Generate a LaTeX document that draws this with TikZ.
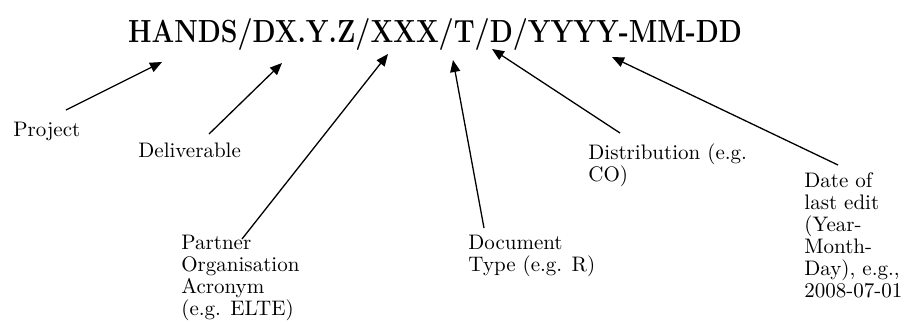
\documentclass[tikz,border=0pt]{standalone}
\usepackage{tikz}
\usetikzlibrary{arrows.meta,positioning,calc}

\begin{document}
\begin{tikzpicture}[x = 0.5pt, y = -0.5pt,
  lbl/.style = {anchor = north west, inner sep = 0pt, align = left, font = \fontsize{10.5}{11}\selectfont},
  arr/.style = {-{Triangle[length = 6pt, width = 5pt]}, line width = 0.65pt}]
\useasboundingbox (0,0) rectangle (904,323);
\node[anchor = base, inner sep = 0pt] (code) at (435,42) {\resizebox{307pt}{\height}{\fontsize{16}{16}\selectfont\bfseries HANDS/DX.Y.Z/XXX/T/D/YYYY-MM-DD}};
% arrow tips below the code
\coordinate (tproj) at (162,62);
\coordinate (tdeliv) at (282,63);
\coordinate (tpartner) at (388,54);
\coordinate (ttype) at (453,60);
\coordinate (tdistr) at (492,49);
\coordinate (tdate) at (612,57);
% labels
\node[lbl] (proj) at (13,122) {Project};
\node[lbl] (deliv) at (138,143) {Deliverable};
\node[lbl] (partner) at (181,235) {Partner\\Organisation\\Acronym\\(e.g. ELTE)};
\node[lbl] (doctype) at (468,235) {Document\\Type (e.g. R)};
\node[lbl] (distr) at (588,143) {Distribution (e.g.\\CO)};
\node[lbl] (date) at (804,172) {Date of\\last edit\\(Year-\\Month-\\Day), e.g.,\\2008-07-01};
\draw[arr] ($(proj.north west)+(53,-12)$) -- (tproj);
\draw[arr] ($(deliv.north west)+(71,-9)$) -- (tdeliv);
\draw[arr] ($(partner.north west)+(61,4)$) -- (tpartner);
\draw[arr] ($(doctype.north west)+(16,-7)$) -- (ttype);
\draw[arr] ($(distr.north west)+(32,-10)$) -- (tdistr);
\draw[arr] ($(date.north west)+(34,-7)$) -- (tdate);
\end{tikzpicture}
\end{document}
